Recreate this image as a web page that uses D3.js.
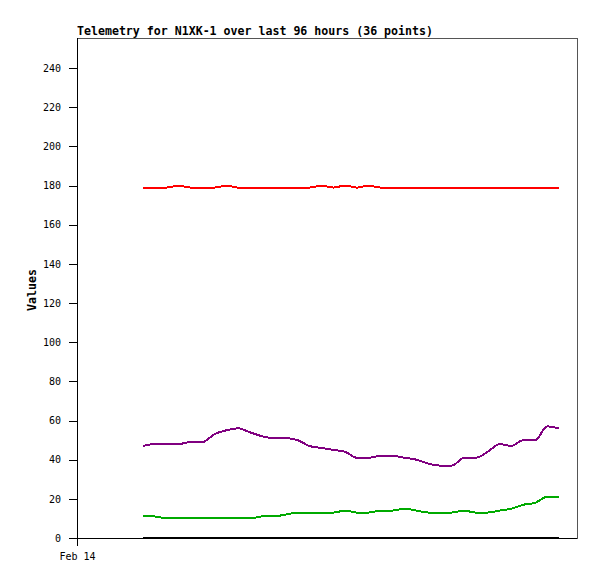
<!DOCTYPE html>
<html>
<head>
<meta charset="utf-8">
<script src="https://cdn.jsdelivr.net/npm/d3@7"></script>
<style>
  body { margin: 0; background: #fff; }
  text { font-family: "DejaVu Sans Mono", "Liberation Mono", monospace; }
</style>
</head>
<body>
<svg id="chart" width="597" height="579"></svg>
<script>
const title = "Telemetry for N1XK-1 over last 96 hours (36 points)";
const yLabel = "Values";
const xTickLabels = ["Feb 14"];
const yTicks = [0, 20, 40, 60, 80, 100, 120, 140, 160, 180, 200, 220, 240];

const seriesRed =    [179,179,179,180,179,179,179,180,179,179,179,179,179,179,179,180,179,180,179,180,179,179,179,179,179,179,179,179,179,179,179,179,179,179,179,179];
const seriesPurple = [47,48,48,48,49,49,53,55,56,54,52,51,51,50,47,46,45,44,41,41,42,42,41,40,38,37,37,41,41,44,48,47,50,50,57,56];
const seriesGreen =  [11,11,10,10,10,10,10,10,10,10,11,11,12,13,13,13,13,14,13,13,14,14,15,14,13,13,13,14,13,13,14,15,17,18,21,21];
const seriesBlack =  [0,0,0,0,0,0,0,0,0,0,0,0,0,0,0,0,0,0,0,0,0,0,0,0,0,0,0,0,0,0,0,0,0,0,0,0];

const series = [
  {values: seriesBlack, color: "#000000"},
  {values: seriesGreen, color: "#00aa00"},
  {values: seriesPurple, color: "#800080"},
  {values: seriesRed, color: "#ff0000"}
];

const svg = d3.select("#chart");
const L = 77, R = 577, T = 38, B = 538;

const x = d3.scaleLinear().domain([-5.553, 36.513]).range([L, R]);
const y = d3.scaleLinear().domain([0, 255.4]).range([B, T]);

// frame
svg.append("rect").attr("x", L).attr("y", T).attr("width", R - L).attr("height", B - T)
  .attr("fill", "none").attr("stroke", "#555").attr("stroke-width", 1)
  .attr("shape-rendering", "crispEdges");

// y axis
const yAxis = d3.axisLeft(y).tickValues(yTicks).tickSize(8).tickPadding(8).tickFormat(d3.format("d"));
const gy = svg.append("g").attr("transform", `translate(${L},0)`).call(yAxis);
gy.select(".domain").remove();
gy.selectAll("line").attr("stroke", "#000").attr("shape-rendering", "crispEdges");
gy.selectAll("text").attr("font-size", "10px").attr("fill", "#000").attr("font-family", "DejaVu Sans Mono, monospace");
svg.append("line").attr("x1", L).attr("x2", L).attr("y1", T).attr("y2", B + 8)
  .attr("stroke", "#000").attr("shape-rendering", "crispEdges");

// x axis
const xAxis = d3.axisBottom(x).tickValues([-5.553]).tickSize(0).tickPadding(15).tickFormat((d, i) => xTickLabels[i]);
const gx = svg.append("g").attr("transform", `translate(0,${B})`).call(xAxis);
gx.select(".domain").remove();
gx.selectAll("text").attr("font-size", "10px").attr("fill", "#000").attr("font-family", "DejaVu Sans Mono, monospace");
svg.append("line").attr("x1", L - 8).attr("x2", R).attr("y1", B).attr("y2", B)
  .attr("stroke", "#000").attr("shape-rendering", "crispEdges");

// lines
const line = d3.line().x((d, i) => x(i)).y(d => y(d)).curve(d3.curveMonotoneX);
series.forEach(s => {
  svg.append("path").datum(s.values)
    .attr("d", line)
    .attr("fill", "none")
    .attr("stroke", s.color)
    .attr("stroke-width", 2)
    .attr("shape-rendering", "crispEdges");
});

// title
svg.append("text").attr("x", L).attr("y", 35)
  .attr("font-size", "11.6px").attr("font-weight", "bold").attr("fill", "#000")
  .text(title);

// y label
svg.append("text").attr("transform", "translate(36,290) rotate(-90)")
  .attr("text-anchor", "middle")
  .attr("font-size", "11.6px").attr("font-weight", "bold").attr("fill", "#000")
  .text(yLabel);
</script>
</body>
</html>
